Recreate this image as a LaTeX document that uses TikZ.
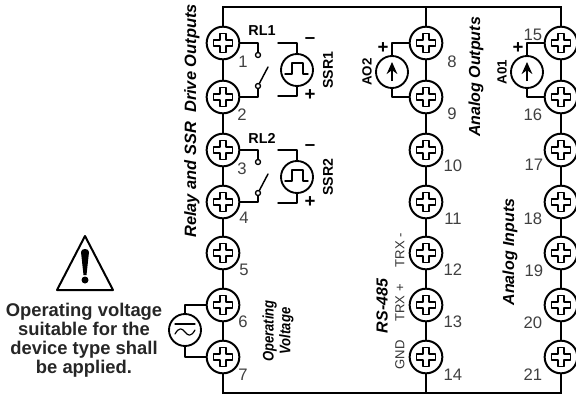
\documentclass[tikz,border=0pt]{standalone}
\usepackage{fontspec}
\setmainfont{Liberation Sans}
\usetikzlibrary{arrows.meta}
\tikzset{
	screw/.style={circle,draw,line width=1.5pt,minimum size=24.5pt,inner sep=0pt},
	source/.style={circle,draw,line width=1.4pt,minimum size=24pt,inner sep=0pt},
	contact/.style={circle,draw,line width=1pt,minimum size=3.8pt,inner sep=0pt},
	num/.style={font=\fontsize{12.5}{12.5}\selectfont,text=black!75},
	lab/.style={font=\fontsize{10.6}{11}\selectfont\bfseries,rotate=90},
	tag/.style={font=\fontsize{12}{12}\selectfont\bfseries\itshape,rotate=90},
	thin tag/.style={font=\fontsize{9.8}{10}\selectfont,rotate=90,text=black!80},
	sign/.style={font=\fontsize{14}{14}\selectfont\bfseries},
	pics/crosshead/.style={code={
		\draw[line width=.8pt] (-3,-9.5)--(3,-9.5)--(3,-3)--(9.5,-3)--(9.5,3)--(3,3)--(3,9.5)--(-3,9.5)--(-3,3)--(-9.5,3)--(-9.5,-3)--(-3,-3)--cycle;
	}}
}
\begin{document}
\begin{tikzpicture}[x=0.75pt,y=-0.75pt,>=stealth,line join=round,line cap=round,line width=1.1pt]
	\useasboundingbox (0,0) rectangle (576,394);
	\coordinate (TL) at (223,7);
	\coordinate (TM) at (426,7);
	\coordinate (TR) at (561,7);
	\coordinate (BL) at (223,393);
	\coordinate (BM) at (426,393);
	\coordinate (BR) at (561,393);
	% screw terminals
	\foreach \n/\y in {1/43,2/97,3/150,4/202,5/253,6/305,7/357}{
		\node[screw] (t\n) at (223,\y) {};
		\pic at (t\n) {crosshead};
	}
	\foreach \n/\y in {8/43,9/97,10/150,11/202,12/253,13/305,14/357}{
		\node[screw] (t\n) at (426,\y) {};
		\pic at (t\n) {crosshead};
	}
	\foreach \n/\y in {15/43,16/97,17/150,18/202,19/253,20/305,21/357}{
		\node[screw] (t\n) at (561,\y) {};
		\pic at (t\n) {crosshead};
	}
	\draw (TL)--(t1)--(t2)--(t3)--(t4)--(t5)--(t6)--(t7)--(BL);
	\draw (TM)--(t8)--(t9)--(t10)--(t11)--(t12)--(t13)--(t14)--(BM);
	\draw (TR)--(t15)--(t16)--(t17)--(t18)--(t19)--(t20)--(t21)--(BR);
	\draw[line width=2pt,line cap=rect] (TL)--(TR) (BL)--(BR);
	% terminal numbers
	\foreach \n/\x/\y in {1/243/62,2/242/115,3/242/169,4/244/218,5/244/270,6/243/322,7/243/375,
		8/452/62,9/452/114,10/453/166,11/453/219,12/453/270,13/453/322,14/453/375,
		15/533/35,16/533/115,17/534/165,18/533/219,19/534/271,20/533/323,21/533/375}{
		\node[num] (n\n) at (\x,\y) {\n};
	}
	% relays
	\foreach \r/\a/\b/\d in {1/t1/t2/0,2/t3/t4/107}{
		\node[contact] (fix\r) at (258,55+\d) {};
		\node[contact] (mov\r) at (258,86+\d) {};
		\coordinate (arm\r) at (268,67+\d);
		\draw (\a.east)-|(fix\r.north);
		\draw (\b.east)-|(mov\r.south);
		\draw (mov\r)--(arm\r);
	}
	\node[font=\fontsize{10.8}{11}\selectfont\bfseries] (rl1) at (262,31) {RL1};
	\node[font=\fontsize{10.8}{11}\selectfont\bfseries] (rl2) at (262,138) {RL2};
	% SSR drives
	\foreach \r/\d in {1/0,2/107}{
		\node[source] (ssr\r) at (297,70+\d) {};
		\coordinate (ssrt\r) at (278,43+\d);
		\coordinate (ssrb\r) at (278,96+\d);
		\draw (ssrt\r)-|(ssr\r.north) (ssrb\r)-|(ssr\r.south);
		\draw (285,74+\d)--(292,74+\d)--(292,63+\d)--(303,63+\d)--(303,74+\d)--(308,74+\d);
		\node[sign] (ssrm\r) at (310,41+\d) {–};
		\node[sign] (ssrp\r) at (310,95+\d) {+};
		\node[lab] (ssrl\r) at (328,70+\d) {SSR\r};
	}
	% analog output sources
	\foreach \o/\x/\a/\b/\t in {2/392/t8/t9/AO2,1/527/t15/t16/A01}{
		\node[source] (ao\o) at (\x,72) {};
		\draw (ao\o.north)|-(\a.west);
		\draw (ao\o.south)|-(\b.west);
		\draw[-{Stealth[length=9pt,width=8pt]},line width=1.2pt,line cap=butt] (\x,81)--(\x,62);
		\node[sign] (aop\o) at (\x-9,48) {+};
		\node[font=\fontsize{10}{10}\selectfont\bfseries,rotate=90] (aol\o) at (\x-25,72) {\t};
	}
	% supply
	\node[source] (ac) at (185,330) {};
	\draw (ac.north)|-(t6.west);
	\draw (ac.south)|-(t7.west);
	\draw[line width=.9pt] (175,324)--(195,324);
	\draw[line width=.9pt] (175,334) .. controls (179,327) and (182,328) .. (185,332) .. controls (188,336) and (191,337) .. (195,330);
	% warning sign
	\draw[line width=1.5pt] (85,236)--(113,290)--(57,290)--cycle;
	\fill (81,252) .. controls (81,248) and (89,248) .. (89,252) -- (86.5,275) -- (83.5,275) -- cycle;
	\fill (85,280) circle (3.5);
	\node[align=center,font=\fontsize{13.8}{14.2}\selectfont\bfseries,text=black!85] (warn) at (84,340) {Operating voltage\\suitable for the\\device type shall\\be applied.};
	% group labels
	\node[tag,font=\fontsize{12.3}{12.3}\selectfont\bfseries\itshape] (drv) at (192,121) {Relay and SSR\ \ Drive Outputs};
	\node[tag] (aot) at (476,77) {Analog Outputs};
	\node[tag] (ain) at (510,252) {Analog Inputs};
	\node[tag] (rs) at (382,306) {RS-485};
	\node[thin tag] (trxm) at (400,250) {TRX -};
	\node[thin tag] (trxp) at (400,303) {TRX +};
	\node[thin tag] (gnd) at (400,355) {GND};
	\node[font=\fontsize{11.5}{12.5}\selectfont\bfseries\itshape,rotate=90,align=center,xscale=.85] (opv) at (278,331) {Operating\\Voltage};
\end{tikzpicture}
\end{document}
